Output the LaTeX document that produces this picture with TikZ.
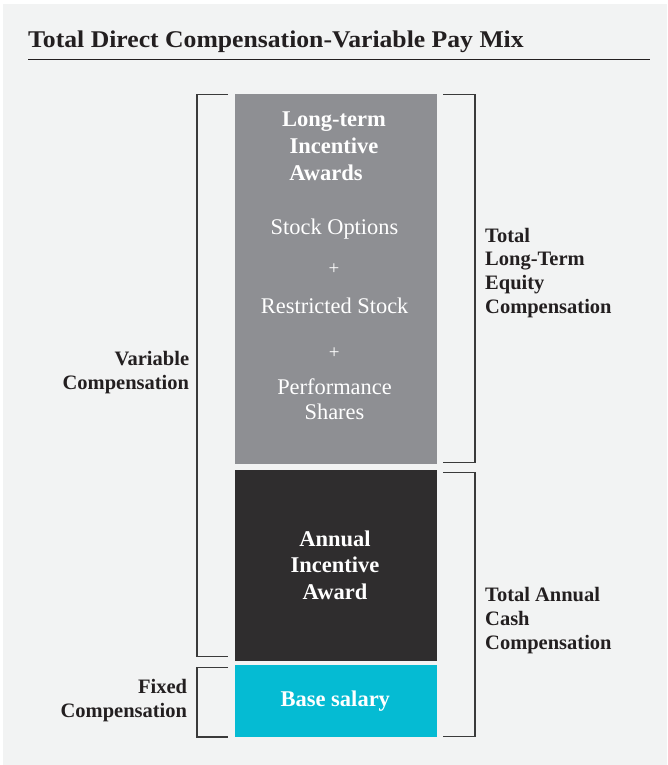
\documentclass[tikz,border=0pt]{standalone}
\usepackage{fontspec}
\setmainfont{Liberation Serif}
\definecolor{bg}{HTML}{F2F3F3}
\definecolor{ltigray}{HTML}{8E8F93}
\definecolor{darkbox}{HTML}{2F2D2E}
\definecolor{cyanbox}{HTML}{05BBD3}
\definecolor{ink}{HTML}{231F20}
\definecolor{brk}{HTML}{3A3A3A}
\tikzset{
  barbox/.style={inner sep=0pt, minimum width=202pt, draw=none},
  boxhead/.style={text=white, align=center, inner sep=0pt, font={\bfseries\fontsize{22.5}{26.6}\selectfont}},
  boxtext/.style={text=white, align=center, inner sep=0pt, font={\fontsize{22.4}{25}\selectfont}},
  plus/.style={text=white, inner sep=0pt, font={\fontsize{19}{22}\selectfont}},
  sidelabel/.style={text=ink, inner sep=0pt, font={\bfseries\fontsize{20.5}{23.8}\selectfont}},
  bracket/.style={draw=brk, line width=1.3pt},
}
\begin{document}
\begin{tikzpicture}[x=1pt,y=-1pt]
\useasboundingbox (0,0) rectangle (667,765);
\fill[white] (0,0) rectangle (667,765);
\fill[bg] (3,4) rectangle (667,765);
% title
\node[anchor=base west, inner sep=0pt, text=ink, font={\bfseries\fontsize{24}{28}\selectfont}] (title) at (28,47.3) {\scalebox{1.07}[1]{Total Direct Compensation-Variable Pay Mix}};
\draw[draw=ink, line width=1.3pt] (28,59.5) coordinate (ruleL) -- (650,59.5) coordinate (ruleR);
% bars
\node[barbox, fill=ltigray, minimum height=370pt] (lti) at (336,279) {};
\node[barbox, fill=darkbox, minimum height=190.5pt] (aia) at (336,565.25) {};
\node[barbox, fill=cyanbox, minimum height=72pt] (base) at (336,701) {};
% texts in bars
\node[boxhead] (ltihead) at (334,146.3) {Long-term\\Incentive\\Awards\hspace*{16pt}};
\node[boxtext, anchor=base] (so) at (334.5,234) {Stock Options};
\node[plus] (plus1) at (334,269) {+};
\node[boxtext, anchor=base] (rs) at (334.7,313.3) {Restricted Stock};
\node[plus] (plus2) at (334.3,352.7) {+};
\node[boxtext] (ps) at (334.5,399.5) {Performance\\Shares};
\node[boxhead] (aiahead) at (335,565) {Annual\\Incentive\\Award};
\node[boxhead, anchor=base] (basehead) at (335.3,706.7) {Base salary};
% brackets
\draw[bracket] (228,94.5) coordinate (vT) -- (197,94.5) -- (197,656.5) -- (228,656.5) coordinate (vB);
\draw[bracket] (228,667.5) coordinate (fT) -- (197,667.5) -- (197,737) -- (228,737) coordinate (fB);
\draw[bracket] (443,94.5) coordinate (eT) -- (475,94.5) -- (475,462.7) -- (443,462.7) coordinate (eB);
\draw[bracket] (443,472.7) coordinate (cT) -- (475,472.7) -- (475,736.7) -- (443,736.7) coordinate (cB);
% side labels
\node[sidelabel, anchor=east, align=right] (varlab) at (189.3,372.9) {Variable\\Compensation};
\node[sidelabel, anchor=east, align=right] (fixlab) at (187.3,700.9) {Fixed\\Compensation};
\node[sidelabel, anchor=west, align=left] (eqlab) at (485,272.8) {Total\\Long-Term\\Equity\\Compensation};
\node[sidelabel, anchor=west, align=left] (cashlab) at (485,620.6) {Total Annual\\Cash\\Compensation};
\end{tikzpicture}
\end{document}
